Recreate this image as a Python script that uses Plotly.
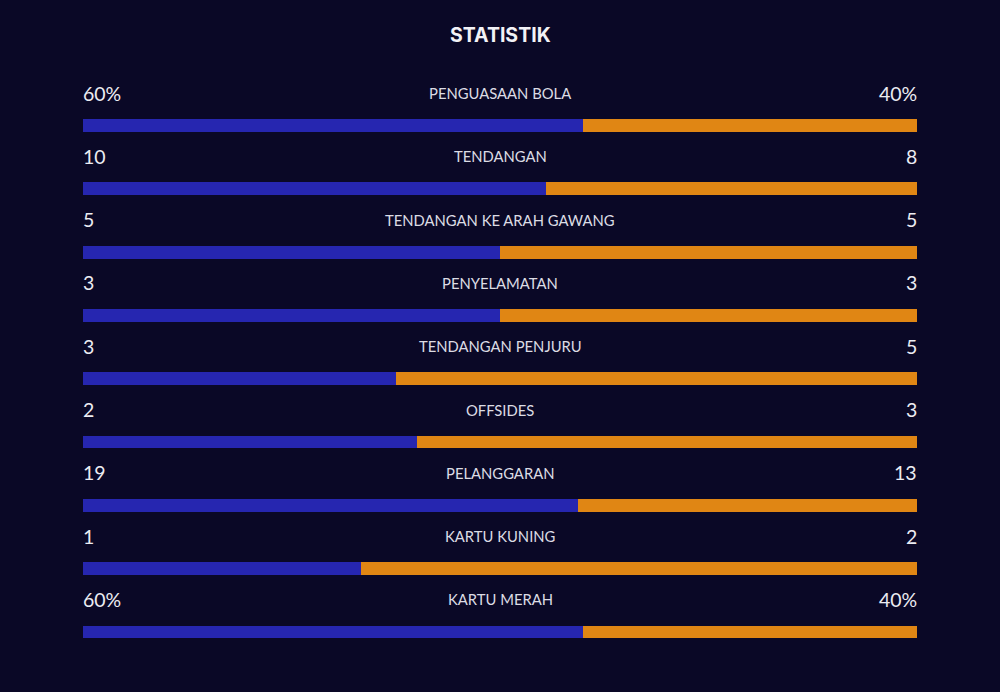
import plotly.graph_objects as go

categories = ["PENGUASAAN BOLA", "TENDANGAN", "TENDANGAN KE ARAH GAWANG", "PENYELAMATAN",
              "TENDANGAN PENJURU", "OFFSIDES", "PELANGGARAN", "KARTU KUNING", "KARTU MERAH"]
home_values = [60, 10, 5, 3, 3, 2, 19, 1, 60]
away_values = [40, 8, 5, 3, 5, 3, 13, 2, 40]
home_labels = ["60%", "10", "5", "3", "3", "2", "19", "1", "60%"]
away_labels = ["40%", "8", "5", "3", "5", "3", "13", "2", "40%"]

BG = "#0a0826"
BLUE = "#2626b0"
ORANGE = "#e08614"
W, H = 1000, 692
ROW0, STEP = 125.5, 63.3

home_share = [h / (h + a) for h, a in zip(home_values, away_values)]
away_share = [a / (h + a) for h, a in zip(home_values, away_values)]
ys = [ROW0 + i * STEP for i in range(len(categories))]

fig = go.Figure()
fig.add_trace(go.Bar(x=home_share, y=ys, orientation="h", marker=dict(color=BLUE, line=dict(width=0)),
                     width=12.8, hoverinfo="skip", customdata=categories))
fig.add_trace(go.Bar(x=away_share, y=ys, orientation="h", marker=dict(color=ORANGE, line=dict(width=0)),
                     width=12.8, hoverinfo="skip", customdata=categories))

ann = []
for i, cat in enumerate(categories):
    ty = ys[i] - 32.5
    ann.append(dict(x=0, y=ty, xref="x", yref="y", text=home_labels[i], showarrow=False, xshift=-2,
                    xanchor="left", yanchor="middle", font=dict(family="Lato", size=19.5, color="#ececf2")))
    ann.append(dict(x=1, y=ty, xref="x", yref="y", text=away_labels[i], showarrow=False, xshift=2,
                    xanchor="right", yanchor="middle", font=dict(family="Lato", size=19.5, color="#ececf2")))
    ann.append(dict(x=0.5, y=ty, xref="x", yref="y", text=cat, showarrow=False,
                    xanchor="center", yanchor="middle", font=dict(family="Lato", size=14.8, color="#dcdce4")))
ann.append(dict(x=0.5, y=35, xref="x", yref="y", text="<b>STATISTIK</b>", showarrow=False,
                xanchor="center", yanchor="middle", font=dict(family="Inter", size=19.5, color="#f2f2f6")))

fig.update_layout(
    width=W, height=H, barmode="stack", showlegend=False,
    paper_bgcolor=BG, plot_bgcolor=BG,
    margin=dict(l=83, r=83, t=0, b=0),
    xaxis=dict(range=[0, 1], visible=False, fixedrange=True),
    yaxis=dict(range=[H, 0], visible=False, fixedrange=True),
    annotations=ann, bargap=0,
)
fig.write_html("out.html", config={"displayModeBar": False})
